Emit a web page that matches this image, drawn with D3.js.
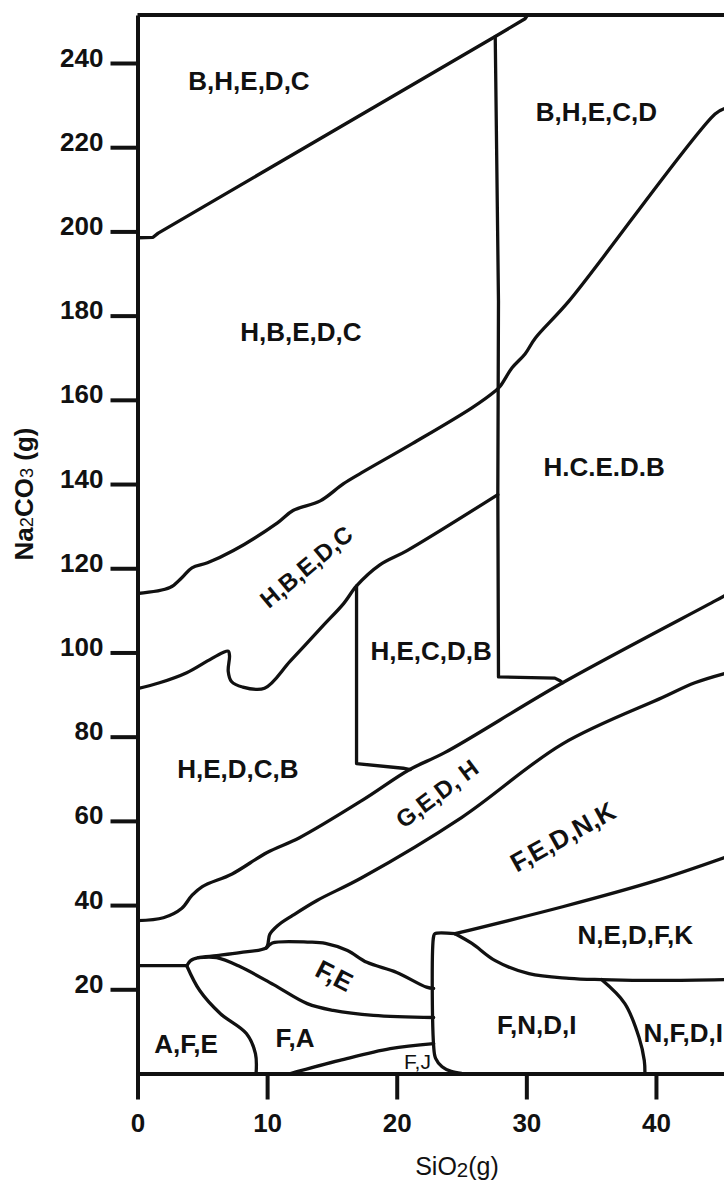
<!DOCTYPE html>
<html>
<head>
<meta charset="utf-8">
<script src="https://cdn.jsdelivr.net/npm/d3@7"></script>
<style>
  html, body { margin: 0; padding: 0; background: #ffffff; }
  svg { display: block; }
</style>
</head>
<body>
<svg id="chart" width="724" height="1180"></svg>
<script>
// ---- Axis ticks ----
const xTicks = [0, 10, 20, 30, 40];
const yTicks = [20, 40, 60, 80, 100, 120, 140, 160, 180, 200, 220, 240];

// ---- Phase boundaries, [SiO2 (g), Na2CO3 (g)] ----
const bhedcUpper = [[0, 198.5], [1.2, 198.6], [1.6, 199.6], [27.6, 246.3], [29.9, 250.5], [30.1, 251.4]];
const hcedbLeft = [[27.6, 246.3], [27.85, 183.5], [27.8, 138], [27.85, 94.2], [32.2, 93.9], [32.6, 93.3], [32.8, 92.8]];
const hbedcUpper = [[0, 114], [2.5, 115.4], [3.4, 117.7], [4.2, 120.1], [5.4, 121.3], [7.4, 124.2], [10.8, 130.8],
  [12.0, 133.7], [14.1, 136.0], [15.9, 140.1], [17.3, 142.7], [21.2, 149.6], [25.8, 158.1], [27.6, 162.1],
  [28.0, 163.3], [28.9, 167.6], [29.9, 170.9], [30.7, 174.7], [33.3, 183.5], [44.56, 227.9], [45.3, 229.2]];
const hbedcLower = [[0, 91.4], [1.7, 92.8], [3.8, 95.2], [5.4, 98.0], [6.6, 100.0], [7.0, 100.3], [7.1, 99.2],
  [7.0, 95.5], [7.25, 93.1], [8.1, 91.8], [9.8, 91.5], [11.8, 98.0], [14.3, 106.3], [15.9, 111.6], [16.9, 115.8],
  [18.7, 120.8], [20.8, 124.2], [27.8, 137.5]];
const hecdbLeft = [[16.9, 115.8], [16.9, 73.6], [20.5, 72.5], [21.05, 72.2]];
const gedhUpper = [[0, 36.3], [2.0, 37.0], [3.4, 39.2], [4.2, 42.3], [5.0, 44.4], [7.3, 47.4], [10.0, 52.5],
  [12.5, 56.0], [17.3, 64.8], [21.0, 72.2], [23.7, 76.2], [32.8, 92.8], [44.6, 112.3], [45.3, 113.5]];
const gedhLower = [[3.8, 25.6], [4.1, 26.8], [4.7, 27.5], [6.1, 28.0], [7.9, 28.7], [9.9, 29.8], [10.05, 30.6],
  [10.2, 33.0], [10.8, 35.1], [12.0, 37.6], [13.85, 41.1], [17.3, 46.5], [25.0, 60.8], [32.8, 78.3],
  [40.5, 89.3], [43.0, 92.8], [45.3, 95.0]];
const afeUpper = [[0, 25.6], [3.8, 25.6]];
const feUpper = [[9.95, 29.8], [10.4, 31.0], [13.3, 31.2], [14.5, 30.9], [16.2, 29.2], [17.7, 26.4],
  [20.0, 24.0], [22.3, 20.5], [22.85, 20.2]];
const feLower = [[4.7, 27.5], [6.1, 27.5], [7.9, 25.4], [10.5, 21.1], [13.1, 16.6], [15.1, 15.0],
  [18.2, 13.8], [22.85, 13.3]];
const afeRight = [[3.8, 25.6], [4.8, 19.7], [6.4, 14.2], [8.4, 9.5], [9.1, 4.7], [9.15, 0]];
const fjUpper = [[11.8, 0], [15.6, 3.1], [19.5, 5.9], [22.85, 7.1]];
const fndiLeft = [[24.5, 33.2], [22.95, 33.2], [22.85, 32.6], [22.85, 6.5], [23.0, 3.6], [23.5, 1.6],
  [24.2, 0.5], [25.0, 0.05]];
const nedfkUpper = [[24.5, 33.2], [32.8, 39.6], [40.0, 45.8], [45.3, 51.3]];
const nedfkLower = [[24.5, 33.2], [25.8, 30.9], [27.6, 26.8], [30.2, 23.7], [33.3, 22.6], [35.8, 22.3],
  [40.5, 22.1], [45.3, 22.3]];
const nfdiLeft = [[35.8, 22.3], [37.6, 16.6], [38.7, 8.5], [39.1, 3.1], [39.15, 0]];

// ---- Phase field labels: text and anchor [SiO2, Na2CO3] ----
const fieldNames = ["B,H,E,D,C", "B,H,E,C,D", "H,B,E,D,C", "H.C.E.D.B", "H,B,E,D,C", "H,E,C,D,B",
  "H,E,D,C,B", "G,E,D, H", "F,E,D,N,K", "F,E", "A,F,E", "F,A", "F,J", "N,E,D,F,K", "F,N,D,I", "N,F,D,I"];
const fieldSiO2 = [8.6, 35.4, 12.6, 36.0, 13.0, 22.65, 7.75, 23.1, 32.8, 15.2, 3.74, 12.15, 21.6, 38.4, 30.8, 42.1];
const fieldNa2CO3 = [235.7, 228.4, 176.1, 144.1, 120.4, 100.4, 72.4, 66.5, 56.3, 23.3, 7.1, 8.5, 2.85, 33.0, 11.6, 9.7];

// ---- Drawing ----
const W = 724, H = 1180;
const FONT = "'Liberation Sans', Arial, Helvetica, sans-serif";
const INK = "#111111";
const svg = d3.select("#chart");

const x = d3.scaleLinear().domain([0, 45.25]).range([137.5, W]);
const y = d3.scaleLinear().domain([0, 251.4]).range([1073.5, 15]);

// clip region for boundaries
svg.append("defs").append("clipPath").attr("id", "plot-clip")
  .append("rect")
  .attr("x", x(0)).attr("y", y(251.4))
  .attr("width", W - x(0)).attr("height", y(0) - y(251.4));

const smoothLine = d3.line().x(d => x(d[0])).y(d => y(d[1])).curve(d3.curveCatmullRom.alpha(0.5));
const straightLine = d3.line().x(d => x(d[0])).y(d => y(d[1]));

const boundaries = [
  { pts: bhedcUpper, gen: straightLine },
  { pts: hcedbLeft, gen: straightLine },
  { pts: hbedcUpper, gen: smoothLine },
  { pts: hbedcLower, gen: smoothLine },
  { pts: hecdbLeft, gen: straightLine },
  { pts: gedhUpper, gen: smoothLine },
  { pts: gedhLower, gen: smoothLine },
  { pts: afeUpper, gen: straightLine },
  { pts: feUpper, gen: smoothLine },
  { pts: feLower, gen: smoothLine },
  { pts: afeRight, gen: smoothLine },
  { pts: fjUpper, gen: smoothLine },
  { pts: fndiLeft, gen: smoothLine },
  { pts: nedfkUpper, gen: smoothLine },
  { pts: nedfkLower, gen: smoothLine },
  { pts: nfdiLeft, gen: smoothLine }
];

svg.append("g").attr("clip-path", "url(#plot-clip)")
  .selectAll("path").data(boundaries).join("path")
  .attr("d", d => d.gen(d.pts))
  .attr("fill", "none")
  .attr("stroke", INK)
  .attr("stroke-width", 3.3)
  .attr("stroke-linejoin", "round")
  .attr("stroke-linecap", "round");

// top frame
svg.append("line")
  .attr("x1", x(0)).attr("x2", W)
  .attr("y1", y(251.4)).attr("y2", y(251.4))
  .attr("stroke", INK).attr("stroke-width", 4);

// y axis
const gy = svg.append("g")
  .attr("transform", `translate(${x(0)},0)`)
  .style("color", INK)
  .call(d3.axisLeft(y).tickValues(yTicks).tickSize(27).tickSizeOuter(0).tickPadding(7));
gy.select(".domain").attr("stroke-width", 4);
gy.selectAll(".tick line").attr("stroke-width", 4);
gy.selectAll(".tick text")
  .attr("font-family", FONT).attr("font-size", 26).attr("font-weight", "bold")
  .attr("dy", "0.12em");

// x axis
const gx = svg.append("g")
  .attr("transform", `translate(0,${y(0)})`)
  .style("color", INK)
  .call(d3.axisBottom(x).tickValues(xTicks).tickSize(26).tickSizeOuter(0).tickPadding(14));
gx.select(".domain").attr("stroke-width", 4);
gx.selectAll(".tick line").attr("stroke-width", 4);
gx.selectAll(".tick text")
  .attr("font-family", FONT).attr("font-size", 26).attr("font-weight", "bold");

// axis titles
const xt = svg.append("text")
  .attr("x", 457).attr("y", 1175)
  .attr("text-anchor", "middle")
  .attr("font-family", FONT).attr("font-size", 25).attr("fill", INK);
xt.append("tspan").text("SiO");
xt.append("tspan").attr("font-size", "0.82em").attr("dy", "0.12em").text("2");
xt.append("tspan").attr("dy", "-0.1em").text("(g)");

const yt = svg.append("text")
  .attr("transform", "translate(33,494) rotate(-90)")
  .attr("text-anchor", "middle")
  .attr("font-family", FONT).attr("font-size", 26).attr("font-weight", "bold").attr("fill", INK);
yt.append("tspan").text("Na");
yt.append("tspan").attr("font-size", "0.7em").attr("font-weight", "normal").text("2");
yt.append("tspan").text("CO");
yt.append("tspan").attr("font-size", "0.7em").attr("font-weight", "normal").text("3");
yt.append("tspan").text(" (g)");

// phase field labels
const labelRotation = { 4: -40, 7: -37, 8: -29, 9: 27 };
const labelSize = { 4: 24, 7: 24 };
const labels = fieldNames.map((t, i) => ({ t, i, sx: fieldSiO2[i], sy: fieldNa2CO3[i] }));

svg.append("g").selectAll("text").data(labels).join("text")
  .attr("transform", d => `translate(${x(d.sx)},${y(d.sy)}) rotate(${labelRotation[d.i] || 0})`)
  .attr("text-anchor", "middle")
  .attr("dy", "0.36em")
  .attr("font-family", FONT)
  .attr("font-size", d => d.t === "F,J" ? 21 : (labelSize[d.i] || 26))
  .attr("font-weight", d => d.t === "F,J" ? "normal" : "bold")
  .attr("fill", INK)
  .text(d => d.t);
</script>
</body>
</html>
